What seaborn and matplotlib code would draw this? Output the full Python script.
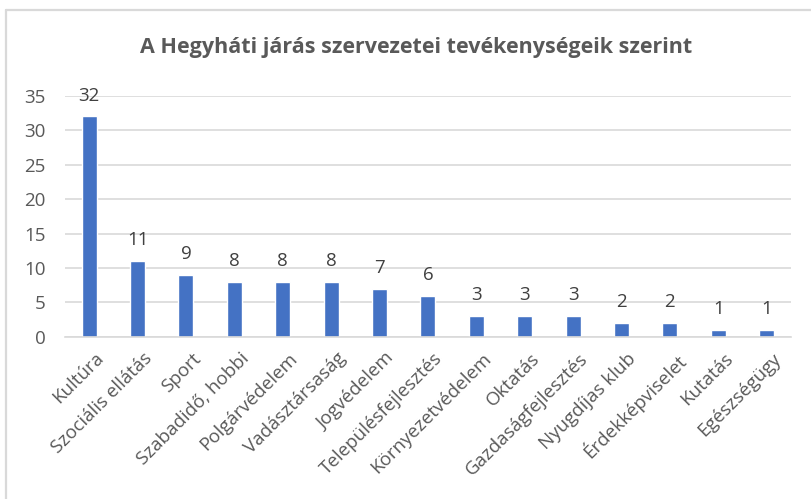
import pandas as pd
import seaborn as sns
from matplotlib import pyplot as plt
from matplotlib import transforms
from matplotlib.lines import Line2D

categories = ['Kultúra', 'Szociális ellátás', 'Sport', 'Szabadidő, hobbi',
              'Polgárvédelem', 'Vadásztársaság', 'Jogvédelem',
              'Településfejlesztés', 'Környezetvédelem', 'Oktatás',
              'Gazdaságfejlesztés', 'Nyugdíjas klub', 'Érdekképviselet',
              'Kutatás', 'Egészségügy']
counts = [32, 11, 9, 8, 8, 8, 7, 6, 3, 3, 3, 2, 2, 1, 1]
y_ticks = [0, 5, 10, 15, 20, 25, 30, 35]

title = 'A Hegyháti járás szervezetei tevékenységeik szerint'
text_color = '#595959'
bar_color = '#4472C4'

sns.set_theme(style='white')
plt.rcParams['font.family'] = ['Open Sans', 'DejaVu Sans']

df = pd.DataFrame({'cat': categories, 'n': counts})

fig = plt.figure(figsize=(8.12, 4.99), dpi=100)
ax = fig.add_axes([0.080, 0.325, 0.894, 0.483])

sns.barplot(data=df, x='cat', y='n', color=bar_color, width=0.31,
            saturation=1, ax=ax)

# value labels above the bars
for i, v in enumerate(counts):
    ax.text(i, v + 1.7, str(v), ha='center', va='bottom',
            fontsize=13.5, color='#404040')

ax.set_ylim(0, 35)
ax.set_yticks(y_ticks)
ax.set_xlim(-0.5, len(categories) - 0.5)
ax.yaxis.grid(True, color='#D9D9D9', linewidth=1.2)
ax.set_axisbelow(True)
ax.spines[['top', 'right', 'left']].set_visible(False)
ax.spines['bottom'].set_color('#D9D9D9')
ax.spines['bottom'].set_linewidth(1.2)
ax.tick_params(axis='both', length=0, labelsize=13.5, colors=text_color)
ax.tick_params(axis='y', pad=14)
ax.tick_params(axis='x', pad=9)
shift = transforms.ScaledTranslation(4 / 72, 0, fig.dpi_scale_trans)
for lbl in ax.get_xticklabels():
    lbl.set_rotation(45)
    lbl.set_ha('right')
    lbl.set_rotation_mode('anchor')
    lbl.set_transform(lbl.get_transform() + shift)
ax.set_xlabel('')
ax.set_ylabel('')

fig.text(0.512, 0.905, title, ha='center', va='center', fontsize=15.5,
         fontweight='bold', color=text_color)

# chart frame: only top and left edges fall inside the picture
fig.add_artist(Line2D([0.0075, 1.0], [0.979, 0.979], transform=fig.transFigure,
                      color='#D9D9D9', linewidth=1.6))
fig.add_artist(Line2D([0.0075, 0.0075], [0.0, 0.979], transform=fig.transFigure,
                      color='#D9D9D9', linewidth=1.6))

fig.savefig('out.png', dpi=100)
